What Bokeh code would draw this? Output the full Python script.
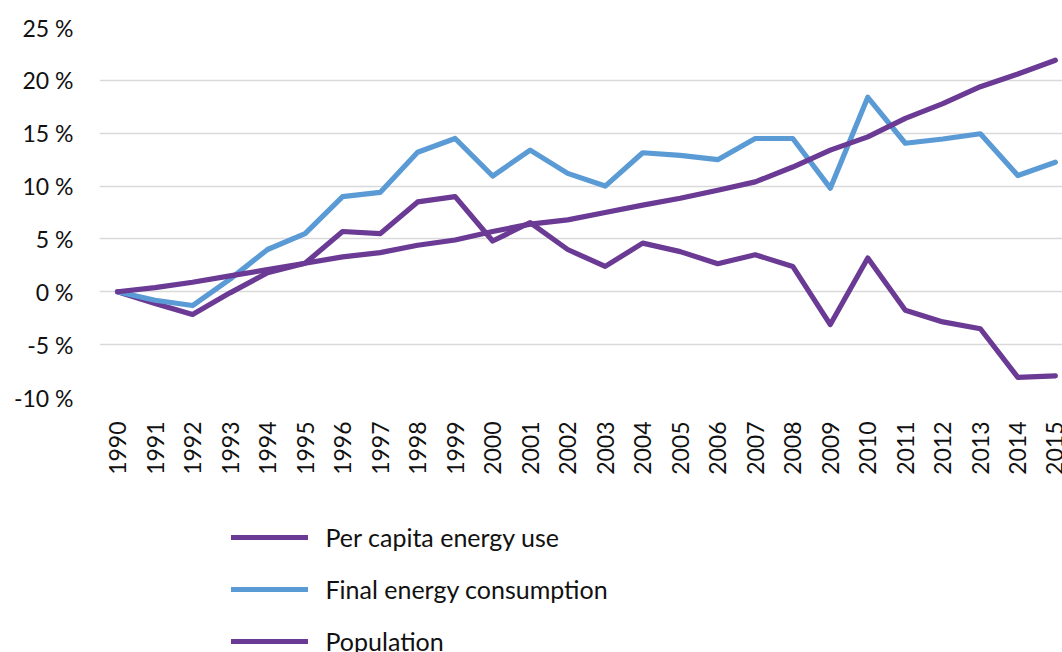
import math
from bokeh.plotting import figure
from bokeh.layouts import column
from bokeh.models import Legend, LegendItem, FixedTicker, Range1d
from bokeh.embed import file_html
from bokeh.resources import INLINE

years = list(range(1990, 2016))
per_capita = [0, -1.1, -2.15, -0.1, 1.8, 2.7, 5.7, 5.5, 8.5, 9.0, 4.8, 6.55, 4.0, 2.4, 4.6,
              3.8, 2.65, 3.5, 2.4, -3.1, 3.2, -1.75, -2.85, -3.5, -8.1, -7.95]
final_energy = [0, -0.8, -1.3, 1.2, 4.0, 5.5, 9.0, 9.4, 13.2, 14.5, 10.95, 13.4, 11.2, 10.0, 13.15,
                12.9, 12.5, 14.5, 14.5, 9.8, 18.4, 14.05, 14.45, 14.95, 11.0, 12.25]
population = [0, 0.4, 0.9, 1.5, 2.1, 2.7, 3.3, 3.7, 4.4, 4.9, 5.7, 6.4, 6.8, 7.5, 8.2,
              8.85, 9.6, 10.4, 11.8, 13.4, 14.65, 16.4, 17.8, 19.4, 20.6, 21.9]
y_ticks = [-10, -5, 0, 5, 10, 15, 20, 25]
series_labels = ["Per capita energy use", "Final energy consumption", "Population"]

PURPLE = "#6a3a94"
BLUE = "#5b9bd5"
FONT = "Lato"
TEXT = "#111111"
colors = [PURPLE, BLUE, PURPLE]
series = [per_capita, final_energy, population]

p = figure(width=1062, height=484, output_backend="svg", toolbar_location=None,
           x_range=Range1d(1989.52, 2015.19), y_range=Range1d(-10, 25),
           min_border_left=99, min_border_right=0, min_border_top=27, min_border_bottom=87)
p.outline_line_color = None

for ys, c in zip(series, colors):
    p.line(years, ys, line_color=c, line_width=5.2, line_join="round", line_cap="round")

p.xaxis.ticker = FixedTicker(ticks=years)
p.xaxis.major_label_orientation = math.pi / 2
p.yaxis.ticker = FixedTicker(ticks=y_ticks)
p.yaxis.major_label_overrides = {t: f"{t} %" for t in y_ticks}

for ax in (p.xaxis[0], p.yaxis[0]):
    ax.axis_line_color = None
    ax.major_tick_line_color = None
    ax.minor_tick_line_color = None
    ax.major_tick_out = 0
    ax.major_tick_in = 0
    ax.major_label_text_font = FONT
    ax.major_label_text_font_size = "23px"
    ax.major_label_text_color = TEXT

p.xaxis.major_label_standoff = 24
p.yaxis.major_label_standoff = 26

p.xgrid.grid_line_color = None
p.ygrid.ticker = FixedTicker(ticks=y_ticks)
p.ygrid.grid_line_color = "#d9d9d9"
p.ygrid.grid_line_width = 1.5

# legend panel (key lines use the series data but lie outside this panel's view)
q = figure(width=1062, height=168, output_backend="svg", toolbar_location=None,
           x_range=Range1d(0, 1), y_range=Range1d(100, 101),
           x_axis_location=None, y_axis_location=None,
           min_border_left=99, min_border_right=0, min_border_top=0, min_border_bottom=0)
q.outline_line_color = None
q.xgrid.grid_line_color = None
q.ygrid.grid_line_color = None
keys = [q.line(years, ys, line_color=c, line_width=5, line_cap="round") for ys, c in zip(series, colors)]

legend = Legend(items=[LegendItem(label=l, renderers=[r]) for l, r in zip(series_labels, keys)],
                location=(131.5, -4))
legend.padding = 0
legend.margin = 0
legend.border_line_color = None
legend.background_fill_alpha = 0
legend.glyph_width = 77
legend.glyph_height = 30
legend.label_height = 30
legend.spacing = 22
legend.label_standoff = 18
legend.label_text_font = FONT
legend.label_text_font_size = "25px"
legend.label_text_color = TEXT
q.add_layout(legend, "center")

open("out.html", "w").write(file_html(column(p, q, spacing=0), INLINE))
